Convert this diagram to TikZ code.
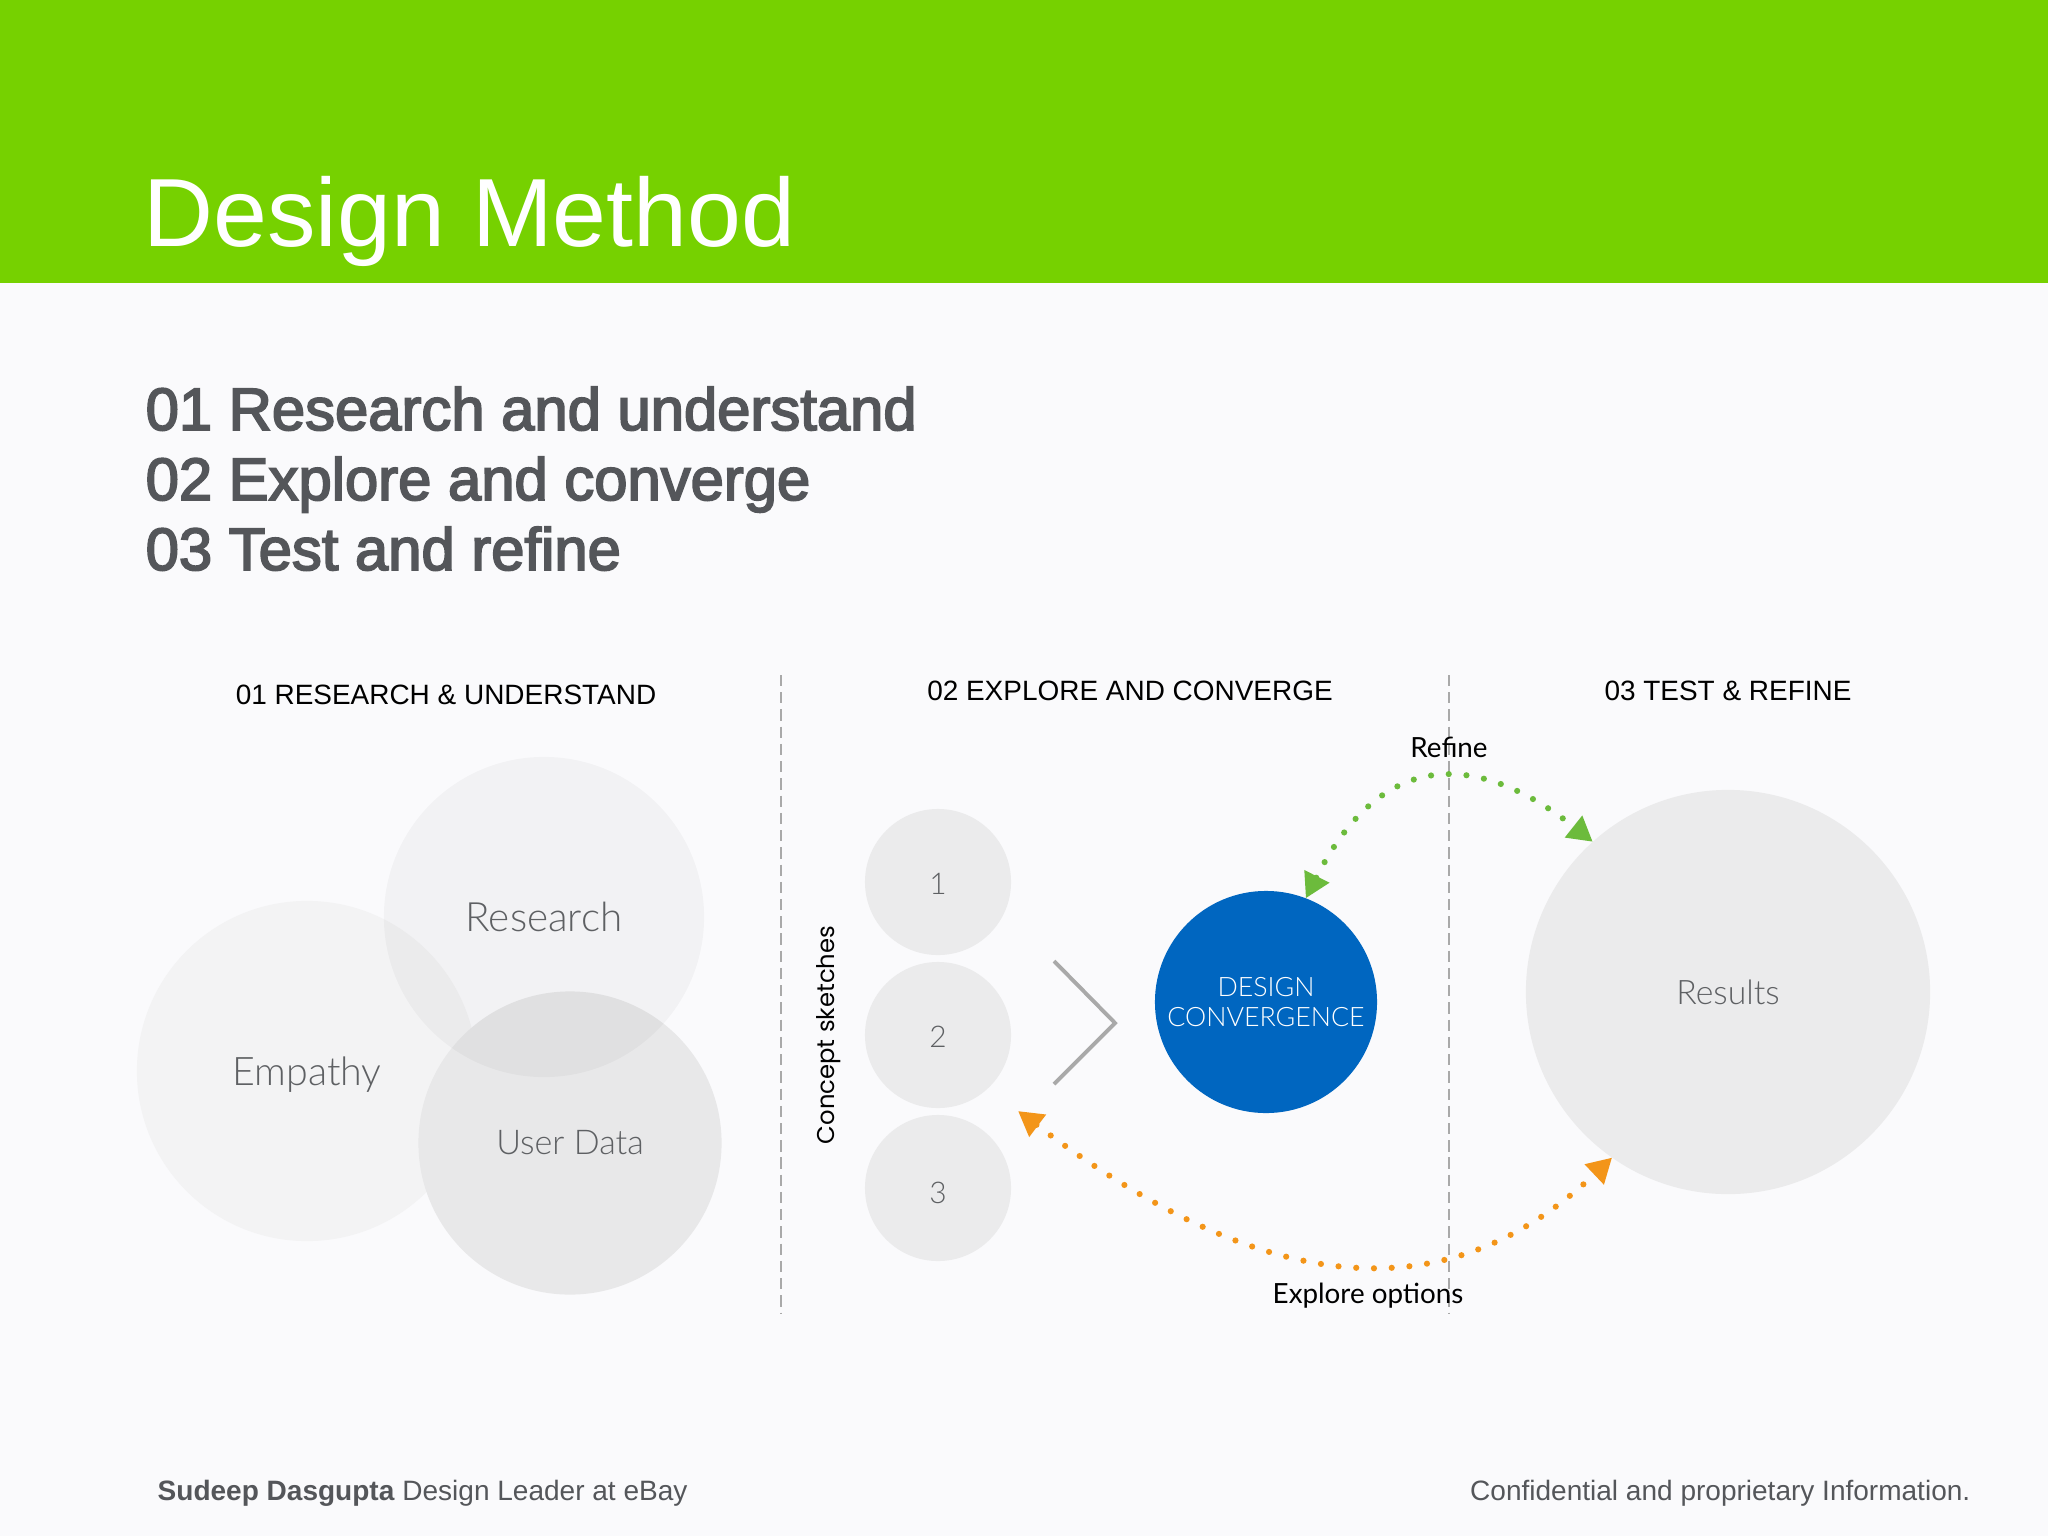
\documentclass[tikz,border=0pt]{standalone}
\usepackage{fontspec}
\setmainfont{Liberation Sans}
\newfontfamily\headfont[UprightFeatures={FakeBold=3}]{Liberation Sans}
\newfontfamily\labelfont{Lato Light}
\newfontfamily\captionfont{Lato}
\newfontfamily\sidefont{Poppins}
\usepackage{xcolor}
\usepackage{tikz}
\usetikzlibrary{arrows.meta}

\definecolor{bandgreen}{HTML}{76D100}
\definecolor{pagegray}{HTML}{FAFAFC}
\definecolor{headgray}{HTML}{54565A}
\definecolor{labelgray}{HTML}{5E6063}
\definecolor{rulegray}{HTML}{A9A9A9}
\definecolor{convblue}{HTML}{0066C0}
\definecolor{refinegreen}{HTML}{6CBB3C}
\definecolor{exploreorange}{HTML}{F39519}
\definecolor{empathygray}{HTML}{F3F3F4}
\definecolor{datagray}{HTML}{E8E8E9}
\definecolor{sketchgray}{HTML}{EBEBEC}

\tikzset{
    bubble/.style={
        circle,
        inner sep=0pt,
        outer sep=0pt,
        text opacity=1,
        text=labelgray,
        font=\labelfont\fontsize{11.2}{13}\selectfont
    },
    sketch/.style={
        bubble,
        minimum size=1.46cm,
        fill=sketchgray,
        text height=6.9pt,
        font=\labelfont\fontsize{8.5}{10}\selectfont
    },
    pointlabel/.style={
        anchor=base west,
        inner sep=0pt,
        text=headgray,
        font=\headfont\fontsize{17}{20}\selectfont
    },
    stagelabel/.style={
        anchor=base,
        inner sep=0pt,
        font=\fontsize{7.95}{10}\selectfont
    },
    looplabel/.style={
        inner sep=0pt,
        font=\captionfont\fontsize{7.9}{9}\selectfont
    },
    footer/.style={
        inner sep=0pt,
        text=headgray,
        font=\fontsize{7.97}{10}\selectfont
    },
    divider/.style={
        color=rulegray,
        line width=0.6pt,
        dash pattern=on 3.2pt off 1.7pt
    },
    looparrow/.style={
        line width=1.75pt,
        line cap=round,
        dash pattern=on 0pt off 5.05pt,
        {Triangle[length=7pt,width=7.5pt]}-{Triangle[length=7pt,width=7.5pt]}
    }
}

\begin{document}
\begin{tikzpicture}[x=0.01cm,y=-0.01cm]
    \fill[pagegray] (0,0) rectangle (2048,1536);
    \fill[bandgreen] (0,0) rectangle (2048,283);
    \node[anchor=base west, inner sep=0pt, text=white, font=\fontsize{27.55}{32}\selectfont] (title) at (143,246) {Design Method};

    \node[pointlabel] (pointone) at (145,430) {01 Research and understand};
    \node[pointlabel] (pointtwo) at (145,500) {02 Explore and converge};
    \node[pointlabel] (pointthree) at (145,570) {03 Test and refine};

    \node[stagelabel] (stageone) at (446,704) {01 RESEARCH \& UNDERSTAND};
    \node[stagelabel] (stagetwo) at (1130,700) {02 EXPLORE AND CONVERGE};
    \node[stagelabel] (stagethree) at (1728,700) {03 TEST \& REFINE};

    \coordinate (dividerAtop) at (781,675);
    \coordinate (dividerAbot) at (781,1313);
    \coordinate (dividerBtop) at (1449,675);
    \coordinate (dividerBbot) at (1449,1313);
    \draw[divider] (dividerAtop) -- (dividerAbot);
    \draw[divider] (dividerBtop) -- (dividerBbot);

    \node[bubble, minimum size=3.4cm, fill=empathygray, text depth=0pt] (empathy) at (307,1071) {Empathy};
    \node[bubble, minimum size=3.03cm, fill=datagray, font=\labelfont\fontsize{9.7}{12}\selectfont] (userdata) at (570,1143) {User Data};
    \node[bubble, minimum size=3.2cm, fill=black, fill opacity=0.03, font=\labelfont\fontsize{11.5}{13}\selectfont] (research) at (544,917) {Research};

    \node[sketch] (sketchone) at (938,882) {1};
    \node[sketch] (sketchtwo) at (938,1035) {2};
    \node[sketch, text height=9.1pt] (sketchthree) at (938,1188) {3};
    \node[rotate=90, inner sep=0pt, font=\sidefont\fontsize{6.9}{9}\selectfont] (sketches) at (829,1035) {Concept sketches};

    \draw[color=rulegray, line width=1.1pt] (1054,961) -- (1115,1023) -- (1054,1084);

    \node[circle, inner sep=0pt, outer sep=0pt, minimum size=2.22cm, fill=convblue, text=white, align=center,
        font=\labelfont\fontsize{7.6}{8.6}\selectfont] (convergence) at (1266,1002) {DESIGN\\CONVERGENCE};
    \node[bubble, minimum size=4.04cm, fill=sketchgray, font=\labelfont\fontsize{9.6}{11}\selectfont] (results) at (1728,992) {Results};

    \coordinate (sketchtip) at (1018,1111);
    \draw[looparrow, color=refinegreen] (convergence.69) .. controls (1398,716) and (1515,780) .. (results.132);
    \draw[looparrow, color=exploreorange] (sketchtip) .. controls (1240,1278) and (1430,1330) .. (results.235);

    \node[looplabel] (refine) at (1449,747) {Refine};
    \node[looplabel] (explore) at (1368,1296) {Explore options};

    \node[footer, anchor=base west] (footerleft) at (157,1500) {\textbf{Sudeep Dasgupta} Design Leader at eBay};
    \node[footer, anchor=base east] (footerright) at (1971,1500) {Confidential and proprietary Information.};
\end{tikzpicture}
\end{document}
